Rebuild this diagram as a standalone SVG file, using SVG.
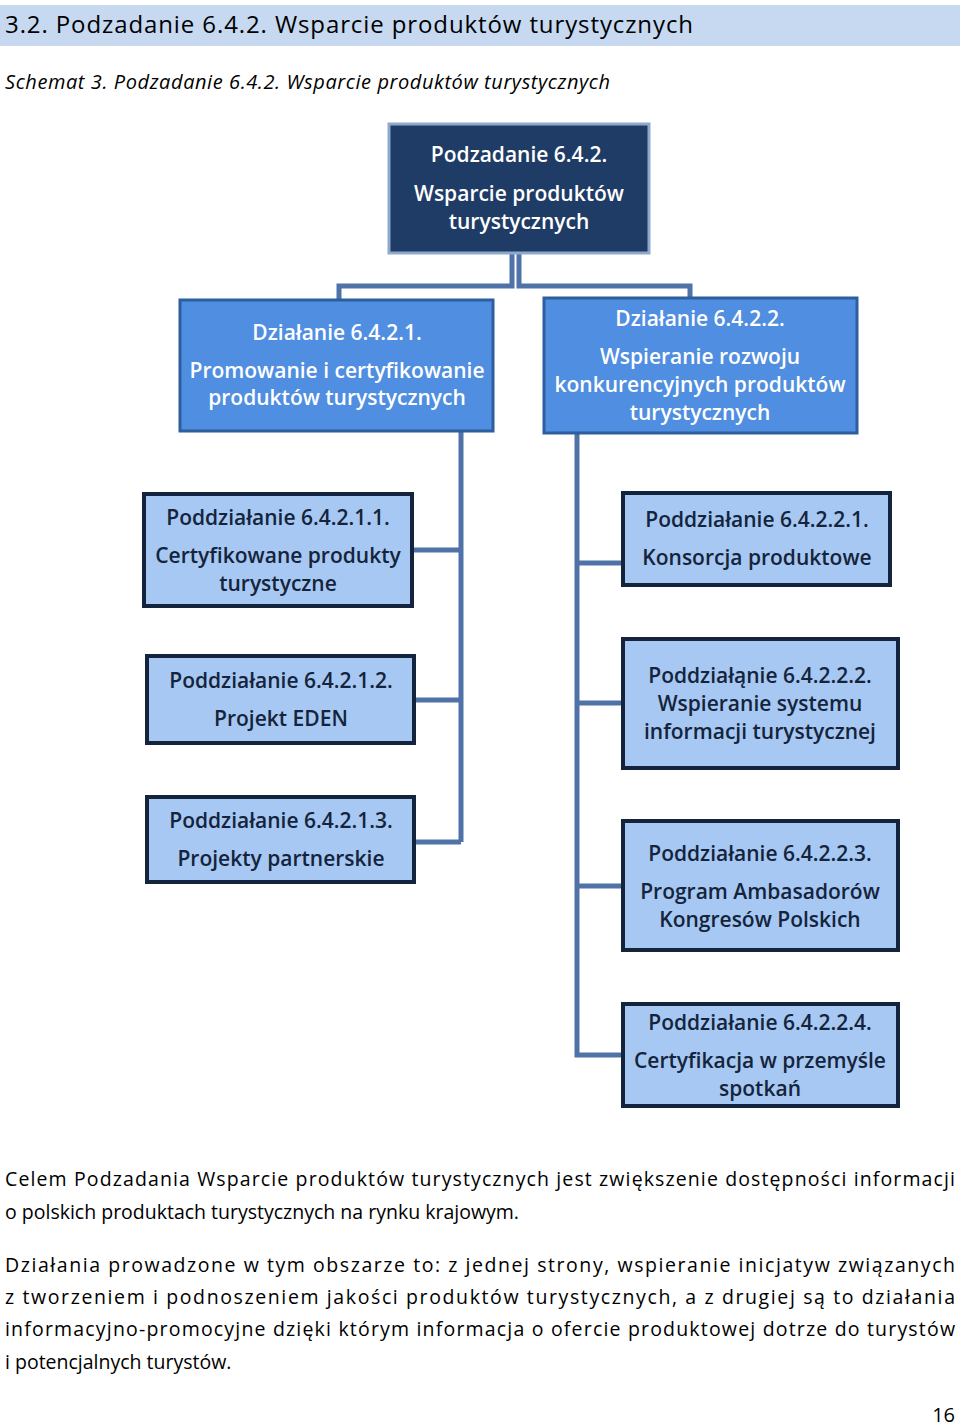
<svg xmlns="http://www.w3.org/2000/svg" width="960" height="1426" viewBox="0 0 960 1426">
<style>
text{font-family:"Open Sans","Liberation Sans",sans-serif}
.top{fill:#1f3c66;stroke:#8fa9cc;stroke-width:3}
.mid{fill:#4f8ee0;stroke:#2d5f9e;stroke-width:3}
.low{fill:#a7c8f2;stroke:#14243c;stroke-width:4}
.w{fill:#fff;font-size:21px;font-weight:600;text-anchor:middle}
.d{fill:#14243c;font-size:21px;font-weight:600;text-anchor:middle}
.c{fill:none;stroke:#4f73a8;stroke-width:5}
.b{fill:#000;font-size:19.5px}
</style>
<rect x="0" y="5" width="960" height="41" fill="#c6d9f1"/>
<text x="5" y="33" font-size="24" fill="#000" textLength="688" lengthAdjust="spacing">3.2. Podzadanie 6.4.2. Wsparcie produktów turystycznych</text>
<text x="5" y="89" font-size="20" font-style="italic" fill="#000" textLength="605" lengthAdjust="spacing">Schemat 3. Podzadanie 6.4.2. Wsparcie produktów turystycznych</text>
<g id="connectors">
<path class="c" d="M512 253V286H339V300M519 253V286H690V300"/>
<path class="c" d="M461 431V842M413 550H461M416 700H461M416 842H461"/>
<path class="c" d="M577 433V1055H622M577 563H622M577 703H622M577 886H622"/>
</g>
<g id="n0"><rect class="top" x="389" y="124" width="260" height="129"/>
<text class="w" x="519" y="162">Podzadanie 6.4.2.</text><text class="w" x="519" y="201">Wsparcie produktów</text><text class="w" x="519" y="229">turystycznych</text></g>
<g id="n1"><rect class="mid" x="180" y="300" width="313" height="131"/>
<text class="w" x="337" y="340">Działanie 6.4.2.1.</text><text class="w" x="337" y="378">Promowanie i certyfikowanie</text><text class="w" x="337" y="405">produktów turystycznych</text></g>
<g id="n2"><rect class="mid" x="544" y="298" width="313" height="135"/>
<text class="w" x="700" y="326">Działanie 6.4.2.2.</text><text class="w" x="700" y="364">Wspieranie rozwoju</text><text class="w" x="700" y="392">konkurencyjnych produktów</text><text class="w" x="700" y="420">turystycznych</text></g>
<g id="n3"><rect class="low" x="144" y="494" width="268" height="112"/>
<text class="d" x="278" y="525">Poddziałanie 6.4.2.1.1.</text><text class="d" x="278" y="563">Certyfikowane produkty</text><text class="d" x="278" y="591">turystyczne</text></g>
<g id="n4"><rect class="low" x="147" y="656" width="267" height="87"/>
<text class="d" x="281" y="688">Poddziałanie 6.4.2.1.2.</text><text class="d" x="281" y="726">Projekt EDEN</text></g>
<g id="n5"><rect class="low" x="147" y="797" width="267" height="85"/>
<text class="d" x="281" y="828">Poddziałanie 6.4.2.1.3.</text><text class="d" x="281" y="866">Projekty partnerskie</text></g>
<g id="n6"><rect class="low" x="623" y="493" width="267" height="92"/>
<text class="d" x="757" y="527">Poddziałanie 6.4.2.2.1.</text><text class="d" x="757" y="565">Konsorcja produktowe</text></g>
<g id="n7"><rect class="low" x="623" y="639" width="275" height="129"/>
<text class="d" x="760" y="683">Poddziałąnie 6.4.2.2.2.</text><text class="d" x="760" y="711">Wspieranie systemu</text><text class="d" x="760" y="739">informacji turystycznej</text></g>
<g id="n8"><rect class="low" x="623" y="821" width="275" height="129"/>
<text class="d" x="760" y="861">Poddziałanie 6.4.2.2.3.</text><text class="d" x="760" y="899">Program Ambasadorów</text><text class="d" x="760" y="927">Kongresów Polskich</text></g>
<g id="n9"><rect class="low" x="623" y="1004" width="275" height="102"/>
<text class="d" x="760" y="1030">Poddziałanie 6.4.2.2.4.</text><text class="d" x="760" y="1068">Certyfikacja w przemyśle</text><text class="d" x="760" y="1096">spotkań</text></g>
<text class="b" x="5" y="1186" textLength="950" lengthAdjust="spacing">Celem Podzadania Wsparcie produktów turystycznych jest zwiększenie dostępności informacji</text>
<text class="b" x="5" y="1219">o polskich produktach turystycznych na rynku krajowym.</text>
<text class="b" x="5" y="1272" textLength="950" lengthAdjust="spacing">Działania prowadzone w tym obszarze to: z jednej strony, wspieranie inicjatyw związanych</text>
<text class="b" x="5" y="1304" textLength="950" lengthAdjust="spacing">z tworzeniem i podnoszeniem jakości produktów turystycznych, a z drugiej są to działania</text>
<text class="b" x="5" y="1336" textLength="950" lengthAdjust="spacing">informacyjno-promocyjne dzięki którym informacja o ofercie produktowej dotrze do turystów</text>
<text class="b" x="5" y="1369">i potencjalnych turystów.</text>
<text x="955" y="1422" font-size="20" text-anchor="end" font-family="Liberation Sans,sans-serif">16</text>
</svg>
